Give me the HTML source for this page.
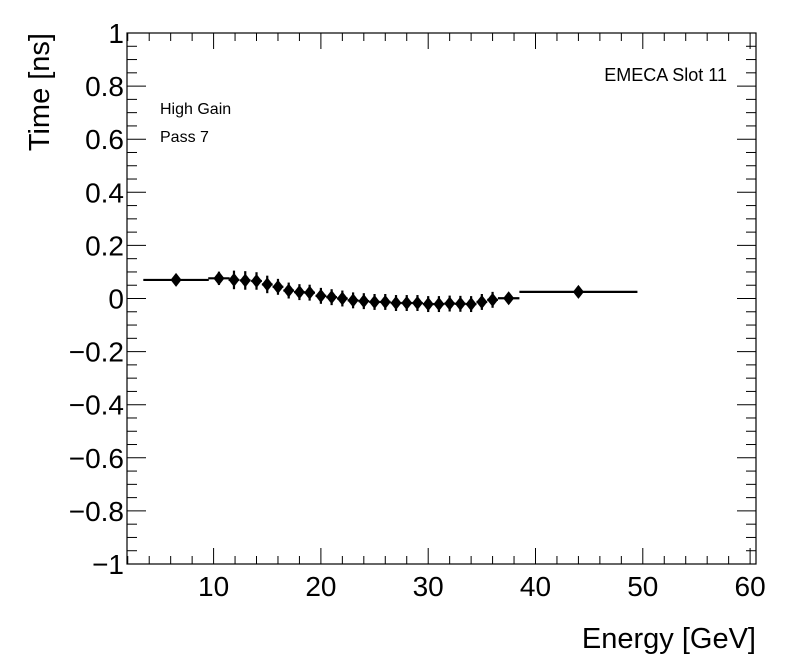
<!DOCTYPE html>
<html><head><meta charset="utf-8"><style>
body{margin:0;background:#fff;}
svg{display:block;font-family:"Liberation Sans",sans-serif;}
</style></head><body>
<svg id="c" width="796" height="672"></svg>
<script>
const xCenters=[6.5,10.5,11.9,12.95,14,15,16,17,18,18.95,20,21,22,23,24,25,26,27,28,29,30,31,32,33,34,35,36,37.5,44];
const xHalfWidths=[3.05,1,0.5,0.5,0.5,0.5,0.5,0.5,0.5,0.5,0.5,0.5,0.5,0.5,0.5,0.5,0.5,0.5,0.5,0.5,0.5,0.5,0.5,0.5,0.5,0.5,0.5,1,5.5];
const yValues=[0.07,0.076,0.07,0.068,0.066,0.053,0.044,0.03,0.024,0.022,0.01,0.005,0,-0.007,-0.01,-0.013,-0.013,-0.017,-0.017,-0.017,-0.021,-0.021,-0.019,-0.02,-0.021,-0.013,-0.005,0.001,0.025];
const yErrors=[0.02,0.025,0.035,0.035,0.033,0.033,0.03,0.03,0.03,0.03,0.03,0.03,0.03,0.03,0.03,0.03,0.03,0.03,0.03,0.03,0.03,0.03,0.03,0.03,0.03,0.03,0.03,0.015,0.008];
const xTickLabels=[10,20,30,40,50,60];
const yTickLabels=[-1,-0.8,-0.6,-0.4,-0.2,0,0.2,0.4,0.6,0.8,1];
const L=127,R=756,T=33,B=564,X0=1.93,X1=60.55,Y0=-1,Y1=1;
const sx=v=>L+(v-X0)/(X1-X0)*(R-L), sy=v=>B-(v-Y0)/(Y1-Y0)*(B-T);
const svg=document.getElementById('c');const NS='http://www.w3.org/2000/svg';
function mk(t,a,p){const e=document.createElementNS(NS,t);for(const k in a)e.setAttribute(k,a[k]);(p||svg).appendChild(e);return e;}
const frame=mk('rect',{x:L,y:T,width:R-L,height:B-T,fill:'none',stroke:'#000','stroke-width':1.2});


const ticks=mk('g',{stroke:'#000','stroke-width':1});


for(let v=2;v<=60;v+=2){const x=sx(v);const len=v%10===0?16:8;
mk('line',{x1:x,x2:x,y1:B,y2:B-len},ticks);mk('line',{x1:x,x2:x,y1:T,y2:T+len},ticks);}
for(let i=-20;i<=20;i++){const v=i*0.05;const y=sy(v);const len=i%4===0?19:10;
mk('line',{x1:L,x2:L+len,y1:y,y2:y},ticks);mk('line',{x1:R,x2:R-len,y1:y,y2:y},ticks);}
xTickLabels.forEach(v=>{const t=mk('text',{x:sx(v),y:B+32,'font-size':28,'text-anchor':'middle'});t.textContent=v;

});
yTickLabels.forEach(v=>{const t=mk('text',{x:124,y:sy(v)+10,'font-size':28,'text-anchor':'end'});t.textContent=(v<0?'\u2212':'')+Math.abs(v);

});
const g=mk('g',{stroke:'#000','stroke-width':2.2,fill:'#000'});


xCenters.forEach((xc,i)=>{const x=sx(xc),y=sy(yValues[i]);
const p=mk('g',{},g);


mk('line',{x1:sx(xc-xHalfWidths[i]),x2:sx(xc+xHalfWidths[i]),y1:y,y2:y},p);
mk('line',{x1:x,x2:x,y1:sy(yValues[i]+yErrors[i]),y2:sy(yValues[i]-yErrors[i])},p);
mk('path',{d:`M${x} ${y-7}L${x+5.5} ${y}L${x} ${y+7}L${x-5.5} ${y}Z`,stroke:'none'},p);});
function txt(s,a,name){const t=mk('text',a);t.textContent=s;return t;}
txt('Energy [GeV]',{x:756,y:648,'font-size':29,'text-anchor':'end'},'x-axis-title');
txt('Time [ns]',{x:0,y:0,'font-size':29,'text-anchor':'end',transform:'translate(49,33) rotate(-90)'},'y-axis-title');
txt('EMECA Slot 11',{x:727,y:81,'font-size':18,'text-anchor':'end'},'slot-label');
txt('High Gain',{x:160,y:114,'font-size':16},'gain-label');
txt('Pass 7',{x:160,y:142,'font-size':16},'pass-label');
</script></body></html>
